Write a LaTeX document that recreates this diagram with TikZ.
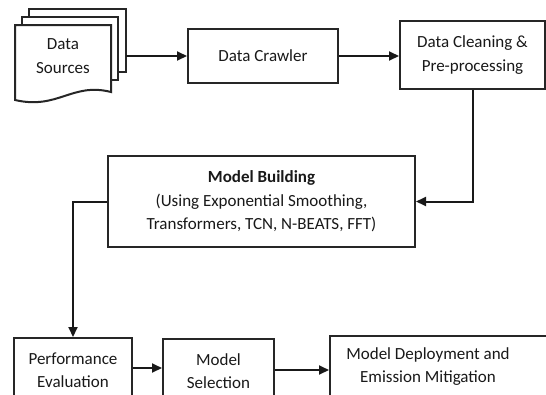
\documentclass[tikz,border=0pt]{standalone}
\usepackage{fontspec}
\setmainfont{Carlito}
\usetikzlibrary{arrows.meta,calc}
\begin{document}
\begin{tikzpicture}[x=1pt,y=-1pt,
  font=\fontsize{17}{23.5}\selectfont,
  box/.style={draw=black!85,line width=2pt,fill=white,align=center,
    inner sep=0pt,text=black!90},
  label/.style={align=center,text=black!90,inner sep=0pt},
  doc/.style={draw=black!85,line width=2pt,fill=white},
  flow/.style={draw=black!90,line width=2pt,
    -{Triangle[length=10pt,width=9pt]}}]
\clip (0,0) rectangle (546,394);
\fill[white] (0,0) rectangle (546,394);

% stacked document symbol for the data sources
\draw[doc] (29,9) rectangle (126,72);
\draw[doc] (22,17) rectangle (118,80);
\draw[doc] (15,25) -- (111,25) -- (111,92)
  .. controls (72,82) and (58,110) .. (15,100) -- cycle;
\node[label] (src) at (63,56) {Data\\Sources};
\coordinate (srcout) at (126,56);

% process boxes
\node[box,minimum width=150pt,minimum height=54pt] (crawl) at (263,56) {Data Crawler};
\node[box,minimum width=145pt,minimum height=68pt] (clean) at (472.5,55)
  {Data Cleaning \&\\Pre-processing};
\node[box,minimum width=307pt,minimum height=91pt] (build) at (261.5,201.5)
  {\textbf{Model Building}\\(Using Exponential Smoothing,\\Transformers, TCN, N-BEATS, FFT)};
\node[box,minimum width=118pt,minimum height=64pt] (perf) at (73,370)
  {Performance\\Evaluation};
\node[box,minimum width=111pt,minimum height=64pt] (sel) at (218.5,371)
  {Model\\Selection};
\node[box,minimum width=230pt,minimum height=62pt] (dep) at (445,367) {};
\node[label] (deptext) at (428,366.5) {Model Deployment and\\Emission Mitigation};

% connectors
\draw[flow] (srcout) -- (crawl.west);
\draw[flow] (crawl.east) -- (crawl.east -| clean.west);
\draw[flow] (clean.south) |- (build.east);
\draw[flow] (build.west) -| (perf.north);
\draw[flow] (perf.east |- 0,368) -- (sel.west |- 0,368);
\draw[flow] (sel.east |- 0,370) -- (dep.west |- 0,370);
\end{tikzpicture}
\end{document}
